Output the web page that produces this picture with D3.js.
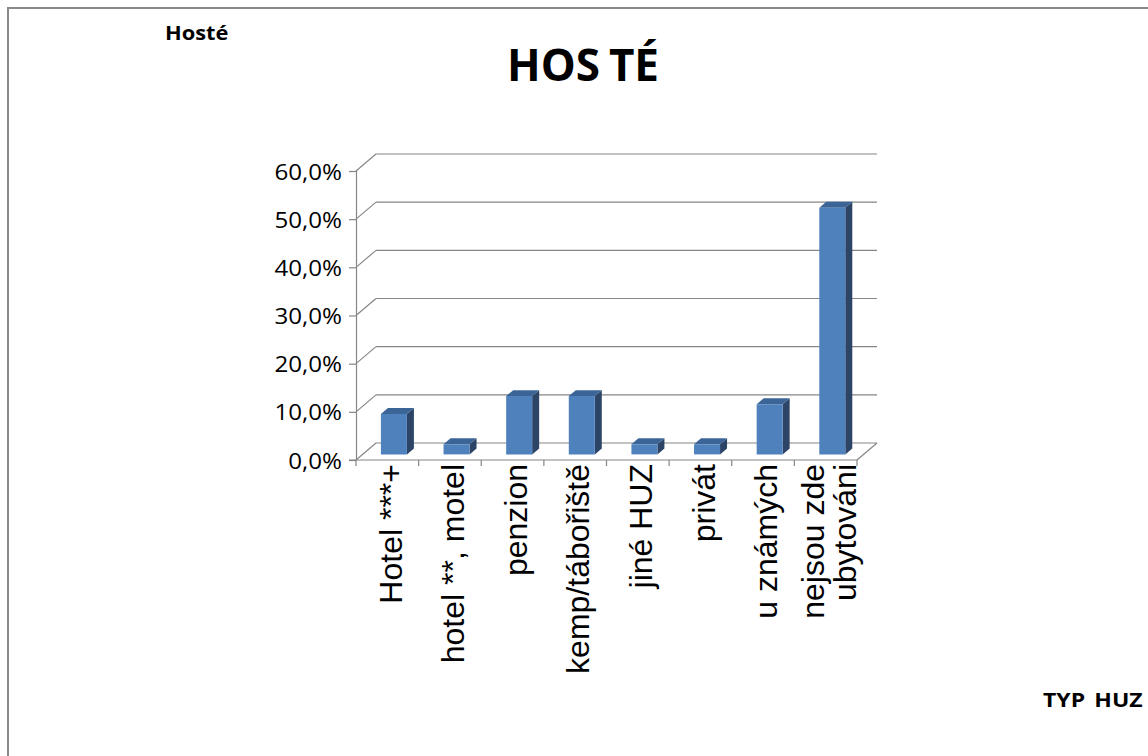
<!DOCTYPE html>
<html><head><meta charset="utf-8">
<script src="https://cdn.jsdelivr.net/npm/d3@7"></script>
<style>
html,body{margin:0;padding:0;background:#fff;overflow:hidden}
svg{display:block}
</style></head>
<body>
<svg id="chart" width="1148" height="756"></svg>
<script>
// ---- data ----
const categories = ["Hotel ***+", "hotel **, motel", "penzion", "kemp/tábořiště", "jiné HUZ", "privát", "u známých", "nejsou zde\nubytováni"];
const values = [8.4, 2.1, 12.1, 12.1, 2.1, 2.1, 10.4, 51.2];
const yTicks = [0, 10, 20, 30, 40, 50, 60];
const chartTitle = ["HOS", "TÉ"];
const cornerLabel = "Hosté";
const axisTitle = ["TYP", "HUZ"];

// ---- layout ----
const svg = d3.select("#chart");
const W = 1148, H = 756;
const plot = {left: 356, right: 857, bottom: 460, top: 171};
const depth = {dx: 20, dy: -17};
const barD0 = 0.33, barD1 = 0.68;
const gridColor = "#868686";
const colFront = "#4f81bd", colSide = "#2c4466", colTop = "#3c6597";

const y = d3.scaleLinear().domain([0, 60]).range([plot.bottom, plot.top]);
const x = d3.scaleBand().domain(categories).range([plot.left, plot.right])
  .paddingInner(0.585).paddingOuter(0.2925);
const step = x.step();
const bw = x.bandwidth();
const P = (px, py, d) => [px + d * depth.dx, py + d * depth.dy];

// chart border
svg.append("rect").attr("x", 8).attr("y", 8).attr("width", W + 20).attr("height", H + 20)
  .attr("fill", "none").attr("stroke", "#8a8a8a").attr("stroke-width", 2);

const g = svg.append("g");

// back wall gridlines + left wall diagonals
yTicks.forEach(t => {
  const [bx0, by] = P(plot.left, y(t), 1);
  const [bx1] = P(plot.right, y(t), 1);
  g.append("line").attr("x1", bx0).attr("y1", by).attr("x2", bx1).attr("y2", by)
    .attr("stroke", gridColor).attr("stroke-width", 1.2);
  g.append("line").attr("x1", plot.left).attr("y1", y(t)).attr("x2", bx0).attr("y2", by)
    .attr("stroke", gridColor).attr("stroke-width", 1.2);
});
// floor right edge
{
  const [bx, by] = P(plot.right, y(0), 1);
  g.append("line").attr("x1", plot.right).attr("y1", y(0)).attr("x2", bx).attr("y2", by)
    .attr("stroke", gridColor).attr("stroke-width", 1.2);
}

// bars
const bars = g.selectAll("g.bar").data(categories.map((c, i) => ({c, v: values[i]})))
  .join("g").attr("class", "bar");
bars.each(function(d) {
  const sel = d3.select(this);
  const xl = x(d.c), xr = x(d.c) + bw;
  const y0 = y(0), y1 = y(d.v);
  const fBL = P(xl, y0, barD0), fBR = P(xr, y0, barD0), fTL = P(xl, y1, barD0), fTR = P(xr, y1, barD0);
  const bBR = P(xr, y0, barD1), bTR = P(xr, y1, barD1), bTL = P(xl, y1, barD1);
  const poly = pts => pts.map(p => p.join(",")).join(" ");
  sel.append("polygon").attr("points", poly([fBR, bBR, bTR, fTR])).attr("fill", colSide);
  sel.append("polygon").attr("points", poly([fTL, fTR, bTR, bTL])).attr("fill", colTop);
  sel.append("polygon").attr("points", poly([fBL, fBR, fTR, fTL])).attr("fill", colFront);
});

// floor front line + category ticks
g.append("line").attr("x1", plot.left - 7).attr("y1", y(0)).attr("x2", plot.right).attr("y2", y(0))
  .attr("stroke", gridColor).attr("stroke-width", 1.2);
d3.range(categories.length + 1).forEach(k => {
  const xx = plot.left + k * step;
  g.append("line").attr("x1", xx).attr("y1", y(0)).attr("x2", xx).attr("y2", y(0) + 6)
    .attr("stroke", gridColor).attr("stroke-width", 1.2);
});

// value axis
const yAxis = d3.axisLeft(y).tickValues(yTicks).tickSize(7).tickPadding(0)
  .tickFormat(d => d.toFixed(1).replace(".", ",") + "%");
const ya = svg.append("g").attr("transform", `translate(${plot.left},0)`).call(yAxis);
ya.select(".domain").attr("stroke", gridColor).attr("stroke-width", 1.2);
ya.selectAll(".tick line").attr("stroke", gridColor).attr("stroke-width", 1.2);
const tickSX = 1.15;
ya.selectAll(".tick text")
  .attr("x", null).attr("dy", null)
  .attr("transform", `translate(-14,8) scale(${tickSX},1)`)
  .attr("text-anchor", "end")
  .style("font-family", "'Open Sans', sans-serif").style("font-size", "21px").attr("fill", "#000");

// category labels (rotated)
const labG = svg.append("g");
categories.forEach(c => {
  const lines = c.split("\n");
  const cx = x(c) + bw / 2 + 3;
  const fs = 32, lh = 32;
  const t = labG.append("text")
    .attr("transform", `translate(${cx},464) rotate(-90)`)
    .attr("text-anchor", "end")
    .style("font-family", "'Liberation Sans', Arial, sans-serif").style("font-size", fs + "px");
  lines.forEach((ln, i) => {
    const off = (i - (lines.length - 1) / 2) * lh + fs * 0.35;
    t.append("tspan").attr("x", 0).attr("y", off).text(ln);
  });
});

// titles
svg.append("text").attr("transform", "translate(165,40) scale(1.15,1)")
  .style("font-family", "'Open Sans', sans-serif").style("font-weight", "bold").style("font-size", "19px")
  .text(cornerLabel);
const tt = svg.append("text").attr("transform", "translate(583,81)").attr("text-anchor", "middle")
  .style("font-family", "'Open Sans', sans-serif").style("font-weight", "bold").style("font-size", "44px");
tt.append("tspan").text(chartTitle[0]);
tt.append("tspan").attr("dx", 9).text(chartTitle[1]);
const at = svg.append("text").attr("transform", "translate(1043,707) scale(1.15,1)")
  .style("font-family", "'Open Sans', sans-serif").style("font-weight", "bold").style("font-size", "20px");
at.append("tspan").text(axisTitle[0]);
at.append("tspan").attr("dx", 8).text(axisTitle[1]);
</script>
</body></html>
